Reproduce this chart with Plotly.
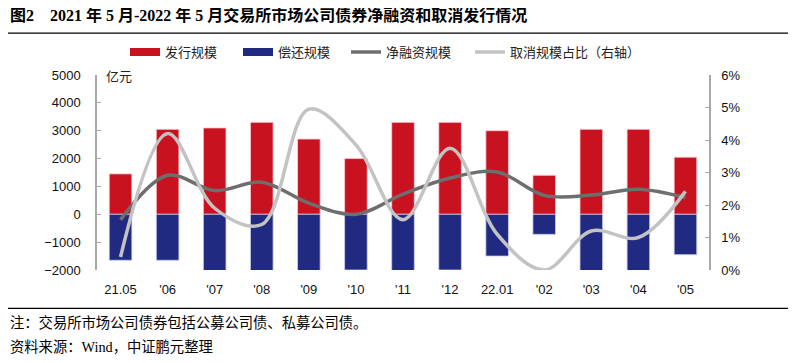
import plotly.graph_objects as go

categories = ["21.05", "'06", "'07", "'08", "'09", "'10", "'11", "'12", "22.01", "'02", "'03", "'04", "'05"]
issuance = [1450, 3050, 3100, 3300, 2700, 2000, 3300, 3300, 3000, 1400, 3050, 3050, 2050]
repayment = [-1650, -1650, -2250, -2150, -2300, -2000, -2580, -2000, -1500, -720, -2360, -2150, -1450]
net_financing = [-200, 1400, 850, 1150, 400, 0, 720, 1300, 1520, 680, 690, 900, 600]
cancel_ratio = [0.40, 4.2, 1.9, 1.4, 4.95, 3.85, 1.55, 3.75, 1.1, 0.0, 1.2, 1.0, 2.42]
left_ticks = [-2000, -1000, 0, 1000, 2000, 3000, 4000, 5000]
right_ticks = [0, 1, 2, 3, 4, 5, 6]

# the page body adds an 8px margin, so target window coordinates are shifted by OFF
OFF = 8
W, H = 796, 363
PLOT_L, PLOT_R, PLOT_T, PLOT_B = 97 - OFF, 709 - OFF, 75 - OFF, 270.5 - OFF
L, R, T, B = PLOT_L, W - PLOT_R, PLOT_T, H - PLOT_B
PW, PH = PLOT_R - PLOT_L, PLOT_B - PLOT_T

def px_x(x):  # window pixel -> paper
    return (x - OFF - PLOT_L) / PW

def px_y(y):
    return (PLOT_B - (y - OFF)) / PH

CJK = "Noto Sans CJK SC"
SERIF = "Liberation Serif, Noto Sans CJK SC"
SANS = "Liberation Sans, Noto Sans CJK SC"
RED, BLUE, DARK, LIGHT = "#C8121F", "#1F2A80", "#6E6E6E", "#C3C3C3"

fig = go.Figure()
fig.add_trace(go.Bar(x=categories, y=issuance, name="发行规模", showlegend=False,
                     marker=dict(color=RED, line=dict(color="rgba(255,200,210,0.8)", width=1)), width=0.48))
fig.add_trace(go.Bar(x=categories, y=repayment, name="偿还规模", showlegend=False,
                     marker=dict(color=BLUE, line=dict(color="rgba(200,205,235,0.8)", width=1)), width=0.48))
fig.add_trace(go.Scatter(x=categories, y=net_financing, name="净融资规模", mode="lines", legend="legend3",
                         line=dict(color=DARK, width=3.5, shape="spline", smoothing=1.0)))
fig.add_trace(go.Scatter(x=categories, y=cancel_ratio, name="取消规模占比（右轴）", mode="lines", yaxis="y2", legend="legend4",
                         line=dict(color=LIGHT, width=3.5, shape="spline", smoothing=1.0)))
# legend-only swatches for the bar series (drawn as wide bands like the reference)
fig.add_trace(go.Scatter(x=[None], y=[None], name="发行规模", mode="lines", legend="legend",
                         line=dict(color=RED, width=8)))
fig.add_trace(go.Scatter(x=[None], y=[None], name="偿还规模", mode="lines", legend="legend2",
                         line=dict(color=BLUE, width=8)))

def leg(swatch_x):
    return dict(orientation="h", x=px_x(swatch_x - 6), y=px_y(52), xanchor="left", yanchor="middle",
                font=dict(family=CJK, size=13, color="#222"), itemwidth=30,
                bgcolor="rgba(0,0,0,0)", borderwidth=0)

fig.update_layout(
    width=W, height=H,
    margin=dict(l=L, r=R, t=T, b=B, autoexpand=False),
    paper_bgcolor="white", plot_bgcolor="white",
    barmode="relative",
    showlegend=True,
    legend=leg(131), legend2=leg(244), legend3=leg(352), legend4=leg(476),
    xaxis=dict(type="category", range=[-0.5, 12.5], showline=False, showgrid=False, ticks="",
               tickfont=dict(family=SANS, size=13, color="#111"), ticklabelstandoff=10),
    xaxis2=dict(overlaying="x", anchor="free", position=2000 / 7000, range=[-0.5, 12.5], showline=True,
                linecolor="#A8A8A8", linewidth=1.5, showgrid=False, ticks="outside", ticklen=4,
                tickcolor="#A8A8A8", tickvals=[i + 0.5 for i in range(12)], showticklabels=False, side="bottom"),
    yaxis=dict(range=[-2000, 5000], tickvals=left_ticks, showgrid=False, zeroline=False,
               showline=True, linecolor="#A8A8A8", linewidth=1.5, ticks="inside", ticklen=4, tickcolor="#A8A8A8",
               tickfont=dict(family=SANS, size=13, color="#111"), ticklabelstandoff=12),
    yaxis2=dict(range=[0, 6], tickvals=right_ticks, ticktext=[f"{v}%" for v in right_ticks], overlaying="y", side="right",
                showgrid=False, zeroline=False, showline=True, linecolor="#A8A8A8", linewidth=1.5,
                ticks="inside", ticklen=4, tickcolor="#A8A8A8",
                tickfont=dict(family=SANS, size=13, color="#111"), ticklabelstandoff=8),
)

fig.add_annotation(text="<b>图2　2021 年 5 月-2022 年 5 月交易所市场公司债券净融资和取消发行情况</b>", xref="paper", yref="paper",
                   x=px_x(8), y=px_y(15), xanchor="left", yanchor="middle", showarrow=False,
                   font=dict(family=SERIF, size=16, color="#000"))
fig.add_annotation(text="亿元", xref="paper", yref="paper", x=px_x(104), y=px_y(76), xanchor="left", yanchor="middle",
                   showarrow=False, font=dict(family=CJK, size=13, color="#222"))
fig.add_annotation(text="注：交易所市场公司债券包括公募公司债、私募公司债。", xref="paper", yref="paper",
                   x=px_x(8), y=px_y(323), xanchor="left", yanchor="middle", showarrow=False,
                   font=dict(family=SERIF, size=14.3, color="#000"))
fig.add_annotation(text="资料来源：Wind，中证鹏元整理", xref="paper", yref="paper",
                   x=px_x(8), y=px_y(348), xanchor="left", yanchor="middle", showarrow=False,
                   font=dict(family=SERIF, size=14.3, color="#000"))
for yy in (33, 309):
    fig.add_shape(type="line", xref="paper", yref="paper", x0=px_x(0), x1=px_x(W + OFF), y0=px_y(yy), y1=px_y(yy),
                  line=dict(color="#000", width=1.2))

fig.write_html("out.html")
